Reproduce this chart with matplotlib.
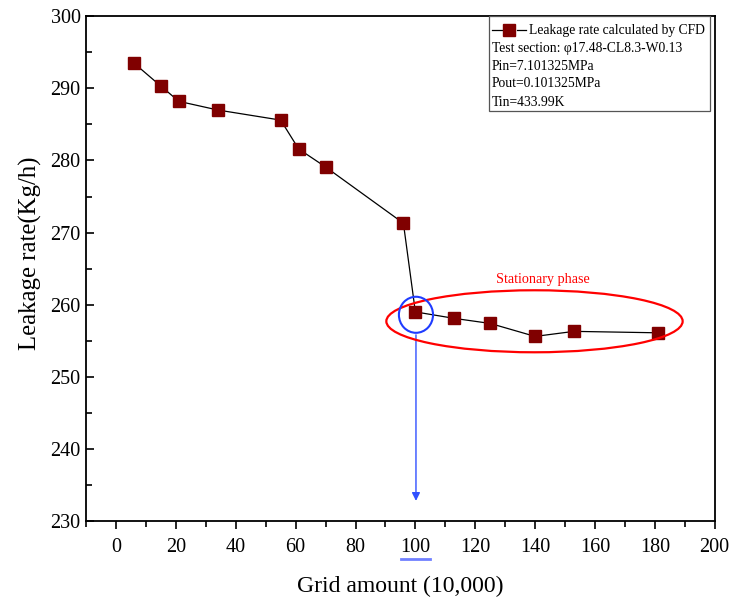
import matplotlib
matplotlib.use("Agg")
import matplotlib.pyplot as plt
from matplotlib.patches import Ellipse, Rectangle
from matplotlib.lines import Line2D

plt.rcParams['font.family'] = ['Liberation Serif', 'DejaVu Serif']

grid = [6, 15, 21, 34, 55, 61, 70, 96, 100, 113, 125, 140, 153, 181]
leak = [293.5, 290.3, 288.2, 287.0, 285.6, 281.6, 279.1, 271.3, 259.0, 258.1, 257.4, 255.6, 256.3, 256.1]

legend_lines = ["Leakage rate calculated by CFD",
                "Test section: \u03c617.48-CL8.3-W0.13",
                "Pin=7.101325MPa",
                "Pout=0.101325MPa",
                "Tin=433.99K"]

fig = plt.figure(figsize=(7.30, 6.03), dpi=100)
ax = fig.add_axes([0.118, 0.136, 0.861, 0.837])

ax.plot(grid, leak, color='black', lw=0.9, marker='s', markersize=8.5,
        markerfacecolor='#800000', markeredgecolor='#800000', zorder=3)

ax.set_xlim(-10, 200)
ax.set_ylim(230, 300)
ax.set_xticks(range(0, 201, 20))
ax.set_xticks(range(-10, 201, 10), minor=True)
ax.set_yticks(range(230, 301, 10))
ax.set_yticks(range(235, 300, 10), minor=True)
ax.tick_params(axis='x', which='major', direction='out', length=6, width=1.2, labelsize=14.5, pad=6)
ax.tick_params(axis='x', which='minor', direction='out', length=4, width=1.2)
ax.tick_params(axis='y', which='major', direction='in', length=6, width=1.2, labelsize=14.5, pad=4)
ax.tick_params(axis='y', which='minor', direction='in', length=4, width=1.2)
for s in ax.spines.values():
    s.set_linewidth(1.3)

ax.set_xlabel("Grid amount (10,000)", fontsize=17, labelpad=14)
ax.set_ylabel("Leakage rate(Kg/h)", fontsize=17.8)
ax.yaxis.set_label_coords(-0.071, 0.531)

# annotations
ax.add_patch(Ellipse((139.8, 257.7), 99, 8.6, fill=False, edgecolor='red', lw=1.6, zorder=4))
ax.add_patch(Ellipse((100.2, 258.6), 11.4, 5.0, fill=False, edgecolor='#1f3cff', lw=1.5, zorder=4))
ax.text(142.5, 263.5, "Stationary phase", color='red', fontsize=10.2, ha='center', va='center')
ax.annotate("", xy=(100.2, 232.4), xytext=(100.2, 256.2),
            arrowprops=dict(arrowstyle='-|>', color='#3050ff', lw=1.0, mutation_scale=12))
ax.plot([95.3, 104.8], [224.7, 224.7], color='#7080ff', lw=2, clip_on=False)

# legend box
ax.add_patch(Rectangle((0.641, 0.812), 0.351, 0.188, transform=ax.transAxes,
                       fill=True, facecolor='white', edgecolor='#555555', lw=0.9, zorder=5))
ys = [0.972, 0.937, 0.901, 0.866, 0.830]
for x0, x1 in [(0.646, 0.661), (0.685, 0.700)]:
    ax.add_line(Line2D([x0, x1], [ys[0], ys[0]], transform=ax.transAxes, color='black', lw=0.9,
                       zorder=6))
ax.add_line(Line2D([0.673], [ys[0]], transform=ax.transAxes, marker='s', markersize=8.5,
                   color='#800000', lw=0, zorder=7))
ax.text(0.705, ys[0], legend_lines[0], transform=ax.transAxes, fontsize=9.8, va='center', zorder=7)
for t, y in zip(legend_lines[1:], ys[1:]):
    ax.text(0.645, y, t, transform=ax.transAxes, fontsize=9.8, va='center', zorder=7)

fig.savefig("out.png", dpi=100)
